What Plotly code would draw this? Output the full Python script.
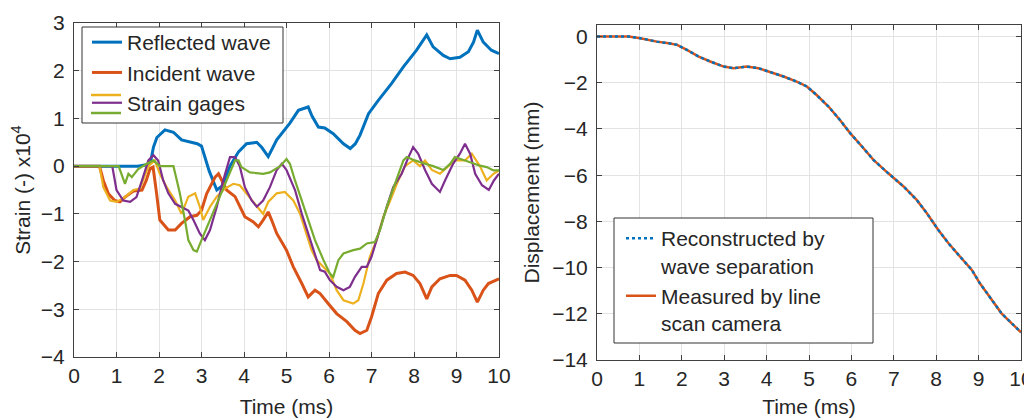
import plotly.graph_objects as go

# ---------------- Left panel data (time in ms, strain x1e4) ----------------
t_reflected = [0, 1.5, 1.7, 1.8, 1.87, 1.95, 2.14, 2.34, 2.53, 2.9, 3.0, 3.18, 3.36, 3.48, 3.67, 3.87,
               4.06, 4.3, 4.42, 4.57, 4.77, 5.08, 5.28, 5.51, 5.6, 5.75, 5.9, 6.1, 6.34, 6.5, 6.62,
               6.73, 6.93, 7.16, 7.47, 7.75, 8.06, 8.3, 8.45, 8.69, 8.85, 9.08, 9.28, 9.4, 9.49,
               9.63, 9.82, 10.0]
v_reflected = [0, 0, 0.03, 0.08, 0.4, 0.6, 0.76, 0.71, 0.55, 0.47, 0.42, -0.1, -0.5, -0.42, 0.0, 0.3,
               0.47, 0.5, 0.39, 0.2, 0.55, 0.9, 1.17, 1.24, 1.05, 0.82, 0.8, 0.68, 0.47, 0.37, 0.47,
               0.65, 1.1, 1.38, 1.73, 2.08, 2.43, 2.75, 2.5, 2.32, 2.25, 2.28, 2.4, 2.6, 2.85,
               2.6, 2.43, 2.36]

t_incident = [0, 0.6, 0.69, 0.81, 0.96, 1.08, 1.2, 1.4, 1.6, 1.7, 1.79, 1.86, 1.94, 2.02, 2.22, 2.38,
              2.53, 2.73, 2.89, 3.0, 3.12, 3.32, 3.4, 3.48, 3.59, 3.79, 3.9, 4.02, 4.22, 4.34, 4.45,
              4.57, 4.65, 4.77, 5.0, 5.16, 5.36, 5.51, 5.67, 5.79, 5.98, 6.18, 6.42, 6.61, 6.73,
              6.89, 7.0, 7.16, 7.36, 7.59, 7.79, 7.98, 8.14, 8.3, 8.42, 8.61, 8.85, 9.0, 9.2, 9.36,
              9.49, 9.63, 9.75, 10.0]
v_incident = [0, 0, -0.3, -0.58, -0.72, -0.75, -0.65, -0.52, -0.5, -0.3, -0.05, -0.02, -0.55, -1.13,
              -1.34, -1.34, -1.2, -1.06, -1.03, -0.93, -0.58, -0.23, -0.16, -0.3, -0.5, -0.64, -0.85,
              -1.06, -1.17, -1.27, -1.13, -0.96, -1.13, -1.41, -1.76, -2.11, -2.46, -2.74, -2.6,
              -2.67, -2.88, -3.09, -3.26, -3.44, -3.51, -3.44, -3.16, -2.67, -2.39, -2.25, -2.22,
              -2.29, -2.46, -2.78, -2.53, -2.36, -2.29, -2.29, -2.39, -2.6, -2.85, -2.6, -2.46, -2.36]

t_gage_yellow = [0, 0.6, 0.69, 0.85, 1.0, 1.2, 1.4, 1.55, 1.75, 1.9, 2.02, 2.18, 2.38, 2.53, 2.69,
                 2.85, 2.96, 3.04, 3.2, 3.36, 3.55, 3.75, 3.9, 4.06, 4.26, 4.45, 4.57, 4.77, 4.96,
                 5.16, 5.32, 5.47, 5.59, 5.71, 5.87, 6.02, 6.18, 6.34, 6.57, 6.69, 6.81, 6.96, 7.12,
                 7.28, 7.44, 7.63, 7.79, 7.98, 8.14, 8.26, 8.42, 8.61, 8.81, 8.96, 9.2, 9.36, 9.55,
                 9.71, 9.87, 10.0]
v_gage_yellow = [0, 0, -0.44, -0.72, -0.75, -0.65, -0.5, -0.47, 0.0, 0.12, -0.16, -0.44, -0.72, -1.0,
                 -0.64, -0.57, -0.85, -1.13, -0.85, -0.64, -0.47, -0.37, -0.4, -0.57, -0.78, -1.0,
                 -0.75, -0.57, -0.54, -0.72, -1.0, -1.41, -1.76, -1.97, -2.11, -2.25, -2.6, -2.81,
                 -2.88, -2.81, -2.46, -1.9, -1.55, -1.06, -0.72, -0.3, 0.0, 0.12, 0.0, 0.12, -0.08,
                 -0.16, 0.0, 0.12, 0.12, 0.26, 0.0, -0.3, -0.16, -0.09]

t_gage_purple = [0, 0.9, 1.0, 1.16, 1.32, 1.47, 1.6, 1.75, 1.87, 1.98, 2.1, 2.22, 2.38, 2.53, 2.69,
                 2.81, 2.96, 3.08, 3.2, 3.36, 3.51, 3.67, 3.79, 3.9, 4.02, 4.18, 4.3, 4.45, 4.61,
                 4.77, 4.89, 5.0, 5.2, 5.36, 5.51, 5.67, 5.79, 5.9, 6.02, 6.18, 6.34, 6.49, 6.61,
                 6.77, 6.89, 7.0, 7.16, 7.36, 7.51, 7.71, 7.87, 7.98, 8.1, 8.26, 8.42, 8.61, 8.73,
                 8.92, 9.08, 9.2, 9.32, 9.44, 9.6, 9.76, 9.88, 10.0]
v_gage_purple = [0, 0, -0.5, -0.72, -0.75, -0.65, -0.3, 0.12, 0.23, 0.12, -0.3, -0.57, -0.79, -0.86,
                 -0.93, -1.13, -1.41, -1.55, -1.34, -0.85, -0.3, 0.19, 0.19, 0.0, -0.44, -0.72,
                 -0.85, -0.72, -0.44, -0.08, 0.05, -0.08, -0.5, -1.0, -1.41, -1.83, -2.18, -2.21,
                 -2.39, -2.53, -2.6, -2.53, -2.32, -2.11, -2.11, -1.9, -1.41, -0.85, -0.44, -0.16,
                 0.19, 0.4, 0.26, -0.08, -0.37, -0.54, -0.3, 0.05, 0.26, 0.47, 0.26, -0.16, -0.4,
                 -0.5, -0.3, -0.16]

t_gage_green = [0, 1.05, 1.2, 1.28, 1.36, 1.51, 1.71, 1.87, 2.02, 2.34, 2.42, 2.49, 2.61, 2.69, 2.81,
                2.89, 3.0, 3.2, 3.4, 3.59, 3.79, 3.87, 3.94, 4.14, 4.45, 4.61, 4.85, 5.0, 5.08,
                5.2, 5.36, 5.51, 5.67, 5.87, 6.02, 6.1, 6.22, 6.34, 6.57, 6.73, 6.89, 7.08, 7.2,
                7.36, 7.59, 7.75, 7.83, 8.02, 8.26, 8.45, 8.69, 8.85, 8.96, 9.16, 9.32, 9.55,
                9.71, 9.87, 10.0]
v_gage_green = [0, 0, -0.37, -0.16, -0.23, -0.06, 0.05, 0.12, 0.0, 0.0, -0.3, -0.57, -1.13, -1.55,
                -1.76, -1.79, -1.55, -1.13, -0.72, -0.33, 0.12, 0.12, -0.02, -0.13, -0.16, -0.13,
                0.0, 0.15, 0.05, -0.3, -0.72, -1.13, -1.55, -1.97, -2.25, -2.32, -1.97, -1.83,
                -1.76, -1.73, -1.62, -1.59, -1.34, -0.85, -0.3, 0.12, 0.19, 0.12, 0.05, 0.0, -0.08,
                0.05, 0.19, 0.12, 0.08, 0.01, -0.02, -0.09, -0.09]

# ---------------- Right panel data (time in ms, displacement in mm) ----------------
t_disp = [0, 0.4, 0.75, 1.02, 1.41, 1.69, 1.89, 2.12, 2.4, 2.67, 2.99, 3.22, 3.53, 3.81, 4.08, 4.4,
          4.71, 4.95, 5.18, 5.46, 5.73, 5.97, 6.25, 6.52, 6.87, 7.23, 7.54, 7.78, 8.05, 8.29, 8.56,
          8.84, 9.03, 9.31, 9.54, 9.78, 10.0]
disp_reconstructed = [0, 0, 0, -0.07, -0.22, -0.29, -0.36, -0.58, -0.87, -1.08, -1.3, -1.37, -1.3,
                      -1.37, -1.52, -1.73, -1.95, -2.16, -2.53, -3.03, -3.61, -4.18, -4.76, -5.34,
                      -5.92, -6.49, -7.07, -7.65, -8.37, -8.95, -9.52, -10.1, -10.68, -11.4, -11.98,
                      -12.41, -12.8]
disp_measured = [0, 0, 0, -0.07, -0.22, -0.29, -0.36, -0.58, -0.87, -1.08, -1.3, -1.37, -1.3,
                 -1.37, -1.52, -1.73, -1.95, -2.16, -2.53, -3.03, -3.61, -4.18, -4.76, -5.34,
                 -5.92, -6.49, -7.07, -7.65, -8.37, -8.95, -9.52, -10.1, -10.68, -11.4, -11.98,
                 -12.41, -12.8]

x_ticks = list(range(0, 11))
left_y_ticks = list(range(-4, 4))
right_y_ticks = list(range(-14, 1, 2))

BLUE = "#0072BD"
ORANGE = "#D95319"
YELLOW = "#EDB120"
PURPLE = "#7E2F8E"
GREEN = "#77AC30"
FONT = "Liberation Sans, Arial, sans-serif"
TXT = "#262626"

W, H = 1024, 410  # page adds an 8 px body margin

fig = go.Figure()

fig.add_trace(go.Scatter(x=t_reflected, y=v_reflected, mode="lines", name="Reflected wave",
                         line=dict(color=BLUE, width=3), legend="legend", xaxis="x", yaxis="y"))
fig.add_trace(go.Scatter(x=t_incident, y=v_incident, mode="lines", name="Incident wave",
                         line=dict(color=ORANGE, width=3), legend="legend", xaxis="x", yaxis="y"))
fig.add_trace(go.Scatter(x=t_gage_yellow, y=v_gage_yellow, mode="lines", name="Strain gages",
                         line=dict(color=YELLOW, width=2.2), showlegend=False, xaxis="x", yaxis="y"))
fig.add_trace(go.Scatter(x=t_gage_purple, y=v_gage_purple, mode="lines", name="Strain gages",
                         line=dict(color=PURPLE, width=2.2), legend="legend", xaxis="x", yaxis="y"))
fig.add_trace(go.Scatter(x=t_gage_green, y=v_gage_green, mode="lines", name="Strain gages",
                         line=dict(color=GREEN, width=2.2), showlegend=False, xaxis="x", yaxis="y"))

fig.add_trace(go.Scatter(x=t_disp, y=disp_measured, mode="lines",
                         name="Measured by line<br>scan camera", legendrank=2,
                         line=dict(color=ORANGE, width=2.5), legend="legend2",
                         xaxis="x2", yaxis="y2"))
fig.add_trace(go.Scatter(x=t_disp, y=disp_reconstructed, mode="lines",
                         name="Reconstructed by<br>wave separation", legendrank=1,
                         line=dict(color=BLUE, width=2.5, dash="dot"), legend="legend2",
                         xaxis="x2", yaxis="y2"))

axis_common = dict(
    showgrid=True, gridcolor="#E3E3E3", gridwidth=1,
    showline=True, linecolor="#404040", linewidth=1, mirror="ticks",
    ticks="inside", ticklen=5, tickcolor="#404040", automargin=False,
    ticklabeloverflow="allow",
    tickfont=dict(family=FONT, size=21, color=TXT), zeroline=False,
)
title_font = dict(family=FONT, size=21, color=TXT)


def px_box(x0, y0, x1, y1):
    return dict(type="rect", xref="paper", yref="paper", layer="above",
                x0=x0 / W, x1=x1 / W, y0=1 - y1 / H, y1=1 - y0 / H,
                fillcolor="white", line=dict(color="#333333", width=1))


def px_swatch(y, color):
    return dict(type="line", xref="paper", yref="paper", layer="above",
                x0=83 / W, x1=113 / W, y0=1 - y / H, y1=1 - y / H,
                line=dict(color=color, width=2.5))


# legend frames and the extra strain-gage swatches (legend decoration)
legend_shapes = [
    px_box(74, 19, 275, 115),
    px_box(606, 210, 865, 335),
    px_swatch(87, YELLOW),
    px_swatch(105, GREEN),
]

fig.update_layout(
    width=W, height=H,
    margin=dict(l=0, r=0, t=0, b=0),
    paper_bgcolor="white", plot_bgcolor="white",
    font=dict(family=FONT, color=TXT),
    xaxis=dict(domain=[66 / W, 491 / W], range=[0, 10], tickvals=x_ticks, anchor="y",
               title=dict(text="Time (ms)", font=title_font, standoff=13),
               **axis_common),
    yaxis=dict(domain=[1 - 349 / H, 1 - 15 / H], range=[-4, 3], tickvals=left_y_ticks, anchor="x",
               ticklabelstandoff=4,
               title=dict(text="Strain (-) x10<sup>4</sup>", font=title_font, standoff=10),
               **axis_common),
    xaxis2=dict(domain=[589 / W, 1013 / W], range=[0, 10], tickvals=x_ticks, anchor="y2",
                title=dict(text="Time (ms)", font=title_font, standoff=13),
                **axis_common),
    yaxis2=dict(domain=[1 - 352 / H, 1 - 17 / H], range=[-14, 0.5], tickvals=right_y_ticks,
                anchor="x2", ticklabelstandoff=4,
                title=dict(text="Displacement (mm)", font=title_font, standoff=6),
                **axis_common),
    legend=dict(x=79 / W, y=1 - 14 / H, xanchor="left", yanchor="top",
                bgcolor="rgba(0,0,0,0)", borderwidth=0,
                font=dict(family=FONT, size=21, color=TXT), tracegroupgap=0,
                itemwidth=30),
    legend2=dict(x=613 / W, y=1 - 210 / H, xanchor="left", yanchor="top",
                 bgcolor="rgba(0,0,0,0)", borderwidth=0,
                 font=dict(family=FONT, size=21, color=TXT), valign="top",
                 itemwidth=30),
    shapes=legend_shapes,
    showlegend=True,
)

fig.write_html("out.html")
